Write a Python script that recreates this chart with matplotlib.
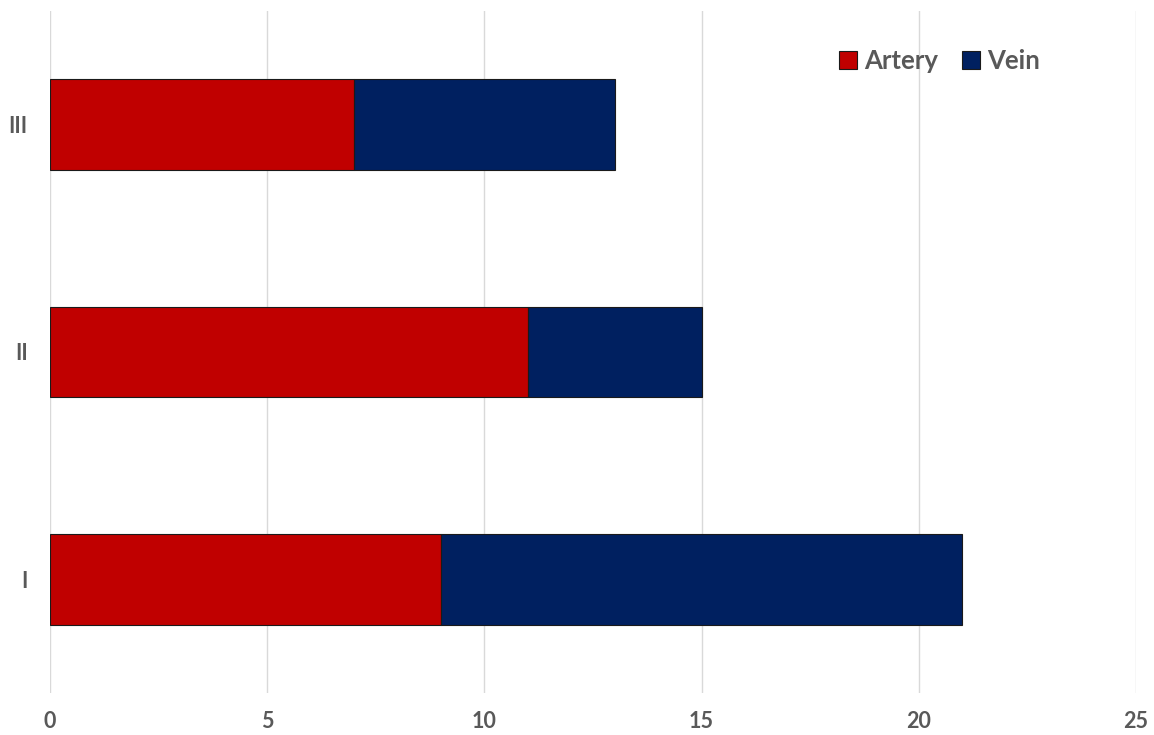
import matplotlib
matplotlib.use("Agg")
import matplotlib.pyplot as plt

categories = ["I", "II", "III"]
artery = [9, 11, 7]
vein = [12, 4, 6]
xticks = [0, 5, 10, 15, 20, 25]

plt.rcParams['font.family'] = ['Lato', 'DejaVu Sans']

fig = plt.figure(figsize=(11.54, 7.35), dpi=100)
ax = fig.add_axes([50/1154, (735-693)/735, (1136-50)/1154, (693-11)/735])

y = range(len(categories))
ax.barh(y, artery, height=0.4, color="#C00000", edgecolor="#1a1a1a", linewidth=0.8, label="Artery", zorder=3)
ax.barh(y, vein, left=artery, height=0.4, color="#002060", edgecolor="#1a1a1a", linewidth=0.8, label="Vein", zorder=3)

ax.set_xlim(0, 25)
ax.set_ylim(-0.5, 2.5)
ax.set_xticks(xticks)
ax.set_yticks(list(y))
ax.set_yticklabels(categories)
ax.grid(axis="x", color="#d9d9d9", linewidth=1, zorder=0)
ax.grid(axis="y", visible=False)
for s in ax.spines.values():
    s.set_visible(False)
ax.tick_params(axis="both", length=0, labelsize=15.5, labelcolor="#595959")
ax.tick_params(axis="x", pad=13)
ax.tick_params(axis="y", pad=16)
for lab in ax.get_xticklabels() + ax.get_yticklabels():
    lab.set_fontweight("bold")

leg = ax.legend(loc="upper right", bbox_to_anchor=(0.933, 0.978), ncol=2, frameon=False,
                prop={"size": 18.5, "weight": "bold"}, handlelength=0.7, handleheight=0.7,
                handletextpad=0.3, columnspacing=0.9)
for t in leg.get_texts():
    t.set_color("#595959")

fig.savefig("out.png", dpi=100, facecolor="white")
